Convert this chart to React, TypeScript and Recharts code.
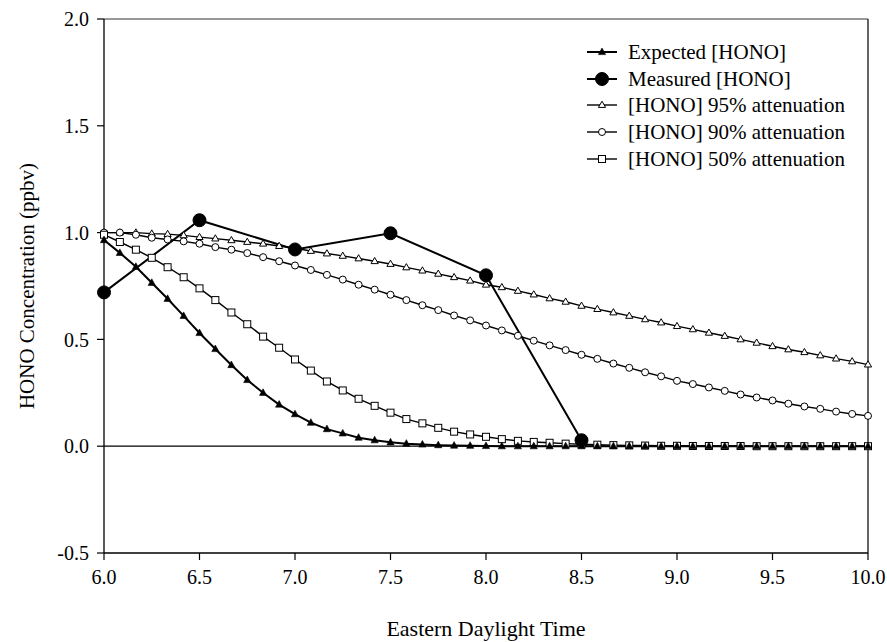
import React from 'react';
import { LineChart, Line, XAxis, YAxis, ReferenceLine, Legend } from 'recharts';

// Time of day (decimal hours, 5-minute steps)
const timeHours = [
  6.0, 6.083, 6.167, 6.25, 6.333, 6.417, 6.5, 6.583, 6.667, 6.75, 6.833, 6.917,
  7.0, 7.083, 7.167, 7.25, 7.333, 7.417, 7.5, 7.583, 7.667, 7.75, 7.833, 7.917,
  8.0, 8.083, 8.167, 8.25, 8.333, 8.417, 8.5, 8.583, 8.667, 8.75, 8.833, 8.917,
  9.0, 9.083, 9.167, 9.25, 9.333, 9.417, 9.5, 9.583, 9.667, 9.75, 9.833, 9.917,
  10.0,
];

const expectedHono = [
  0.965, 0.905, 0.84, 0.765, 0.69, 0.61, 0.53, 0.455, 0.38, 0.31, 0.25, 0.195,
  0.15, 0.11, 0.08, 0.06, 0.04, 0.028, 0.018, 0.012, 0.008, 0.005, 0.003, 0.002,
  0.001, 0, 0, 0, 0, 0, 0, 0, 0, 0, 0, 0,
  0, 0, 0, 0, 0, 0, 0, 0, 0, 0, 0, 0,
  0,
];

const hono95 = [
  1.0, 1.0, 1.0, 0.995, 0.993, 0.987, 0.979, 0.972, 0.964, 0.956, 0.948, 0.937,
  0.927, 0.914, 0.902, 0.891, 0.879, 0.866, 0.853, 0.837, 0.822, 0.807, 0.791, 0.775,
  0.756, 0.744, 0.727, 0.71, 0.692, 0.676, 0.657, 0.642, 0.626, 0.61, 0.594, 0.579,
  0.562, 0.547, 0.531, 0.516, 0.5, 0.484, 0.468, 0.453, 0.44, 0.425, 0.41, 0.397,
  0.382,
];

const hono90 = [
  1.0, 1.0, 0.99, 0.976, 0.968, 0.959, 0.948, 0.932, 0.92, 0.904, 0.885, 0.866,
  0.846, 0.825, 0.802, 0.78, 0.756, 0.733, 0.709, 0.684, 0.66, 0.637, 0.612, 0.589,
  0.565, 0.542, 0.517, 0.494, 0.472, 0.45, 0.428, 0.409, 0.387, 0.367, 0.346, 0.327,
  0.306, 0.291, 0.275, 0.259, 0.242, 0.228, 0.214, 0.199, 0.186, 0.175, 0.162, 0.151,
  0.142,
];

const hono50 = [
  0.99, 0.956, 0.92, 0.882, 0.838, 0.791, 0.739, 0.684, 0.626, 0.571, 0.513, 0.461,
  0.406, 0.354, 0.303, 0.261, 0.222, 0.189, 0.157, 0.127, 0.107, 0.086, 0.068, 0.055,
  0.044, 0.033, 0.025, 0.02, 0.016, 0.012, 0.009, 0.007, 0.005, 0.004, 0.003, 0.002,
  0.002, 0.001, 0.001, 0.001, 0.001, 0, 0, 0, 0, 0, 0, 0,
  0,
];

const measuredTimes = [6.0, 6.5, 7.0, 7.5, 8.0, 8.5];
const measuredHono = [0.72, 1.058, 0.921, 0.997, 0.8, 0.028];

const xTicks = [6.0, 6.5, 7.0, 7.5, 8.0, 8.5, 9.0, 9.5, 10.0];
const yTicks = [-0.5, 0.0, 0.5, 1.0, 1.5, 2.0];

const seriesLabels = [
  'Expected [HONO]',
  'Measured [HONO]',
  '[HONO] 95% attenuation',
  '[HONO] 90% attenuation',
  '[HONO] 50% attenuation',
];

const data = timeHours.map((t, i) => {
  const mi = measuredTimes.findIndex((m) => Math.abs(m - t) < 0.01);
  return {
    t,
    exp: expectedHono[i],
    p95: hono95[i],
    p90: hono90[i],
    p50: hono50[i],
    meas: mi >= 0 ? measuredHono[mi] : null,
  };
});

const FONT = '"Liberation Serif", "Times New Roman", serif';

type MK = 'triFilled' | 'bigCircle' | 'triOpen' | 'circleOpen' | 'squareOpen';

function Marker({ kind, cx, cy }: { kind: MK; cx: number; cy: number }) {
  switch (kind) {
    case 'triFilled':
      return <path d={`M${cx},${cy - 4} L${cx + 3.6},${cy + 2.6} L${cx - 3.6},${cy + 2.6} Z`} fill="#000" stroke="#000" strokeWidth={0.6} />;
    case 'triOpen':
      return <path d={`M${cx},${cy - 3.8} L${cx + 3.6},${cy + 2.4} L${cx - 3.6},${cy + 2.4} Z`} fill="#fff" stroke="#000" strokeWidth={1} />;
    case 'circleOpen':
      return <circle cx={cx} cy={cy} r={3.5} fill="#fff" stroke="#000" strokeWidth={1} />;
    case 'squareOpen':
      return <rect x={cx - 3.5} y={cy - 3.5} width={7} height={7} fill="#fff" stroke="#000" strokeWidth={1} />;
    case 'bigCircle':
      return <circle cx={cx} cy={cy} r={6.5} fill="#000" stroke="#000" />;
  }
  return null;
}

const makeDot = (kind: MK, name: string) => (p: any) => {
  const key = `${name}-${p.index}`;
  if (p.cx == null || p.cy == null || p.value == null) return <g key={key} />;
  return (
    <g key={key}>
      <Marker kind={kind} cx={p.cx} cy={p.cy} />
    </g>
  );
};

const legendKinds: MK[] = ['triFilled', 'bigCircle', 'triOpen', 'circleOpen', 'squareOpen'];

function LegendBox() {
  return (
    <div style={{ fontFamily: FONT, fontSize: 21, color: '#000' }}>
      {seriesLabels.map((label, i) => (
        <div key={label} style={{ display: 'flex', alignItems: 'center', height: 26.6 }}>
          <svg width={30} height={16} style={{ display: 'block' }}>
            <line x1={0} y1={8} x2={30} y2={8} stroke="#000" strokeWidth={i < 2 ? 2 : 1.4} />
            <Marker kind={legendKinds[i]} cx={15} cy={8} />
          </svg>
          <span style={{ marginLeft: 11, whiteSpace: 'nowrap', lineHeight: '26px' }}>{label}</span>
        </div>
      ))}
    </div>
  );
}

const YTitle = (props: any) => {
  const vb = props.viewBox || {};
  const cy = vb.y + vb.height / 2;
  return (
    <text x={34} y={cy} transform={`rotate(-90, 34, ${cy})`} textAnchor="middle" fontFamily={FONT} fontSize={21} fill="#000">
      HONO Concentration (ppbv)
    </text>
  );
};

const XTitle = (props: any) => {
  const vb = props.viewBox || {};
  return (
    <text x={vb.x + vb.width / 2} y={vb.y + vb.height - 6} textAnchor="middle" fontFamily={FONT} fontSize={22} fill="#000">
      Eastern Daylight Time
    </text>
  );
};

const tickStyle = { fill: '#000', fontFamily: FONT, fontSize: 20 };

export default function App() {
  return (
    <div style={{ width: 887, height: 642, background: '#fff', position: 'relative' }}>
      <style>{'html,body{margin:0;padding:0;overflow:hidden;background:#fff;}'}</style>
      <LineChart width={887} height={642} data={data} margin={{ top: 19, right: 19, bottom: 0, left: 0 }}>
        <XAxis
          dataKey="t"
          type="number"
          domain={[6, 10]}
          ticks={xTicks}
          tickFormatter={(v: number) => v.toFixed(1)}
          height={89}
          tickSize={7}
          tickMargin={10}
          axisLine={{ stroke: '#000', strokeWidth: 1.3 }}
          tickLine={{ stroke: '#000', strokeWidth: 1.2 }}
          tick={tickStyle}
          label={<XTitle />}
          allowDecimals
        />
        <YAxis
          type="number"
          domain={[-0.5, 2]}
          ticks={yTicks}
          tickFormatter={(v: number) => v.toFixed(1)}
          width={104}
          tickSize={7}
          tickMargin={8}
          axisLine={{ stroke: '#000', strokeWidth: 1.3 }}
          tickLine={{ stroke: '#000', strokeWidth: 1.2 }}
          tick={tickStyle}
          label={<YTitle />}
          allowDataOverflow
        />
        <ReferenceLine y={0} stroke="#000" strokeWidth={1.3} />
        <ReferenceLine y={2} stroke="#333" strokeWidth={1} />
        <ReferenceLine x={10} stroke="#111" strokeWidth={1.3} />
        <Legend
          layout="vertical"
          align="center"
          verticalAlign="middle"
          content={() => <LegendBox />}
          wrapperStyle={{ position: 'absolute', left: 587, top: 39, width: 290, height: 'auto' }}
        />
        <Line dataKey="p95" name={seriesLabels[2]} stroke="#000" strokeWidth={1.4} dot={makeDot('triOpen', 'p95')} activeDot={false} isAnimationActive={false} />
        <Line dataKey="p90" name={seriesLabels[3]} stroke="#000" strokeWidth={1.4} dot={makeDot('circleOpen', 'p90')} activeDot={false} isAnimationActive={false} />
        <Line dataKey="p50" name={seriesLabels[4]} stroke="#000" strokeWidth={1.4} dot={makeDot('squareOpen', 'p50')} activeDot={false} isAnimationActive={false} />
        <Line dataKey="exp" name={seriesLabels[0]} stroke="#000" strokeWidth={2} dot={makeDot('triFilled', 'exp')} activeDot={false} isAnimationActive={false} />
        <Line dataKey="meas" name={seriesLabels[1]} stroke="#000" strokeWidth={2} connectNulls dot={makeDot('bigCircle', 'meas')} activeDot={false} isAnimationActive={false} />
      </LineChart>
    </div>
  );
}
